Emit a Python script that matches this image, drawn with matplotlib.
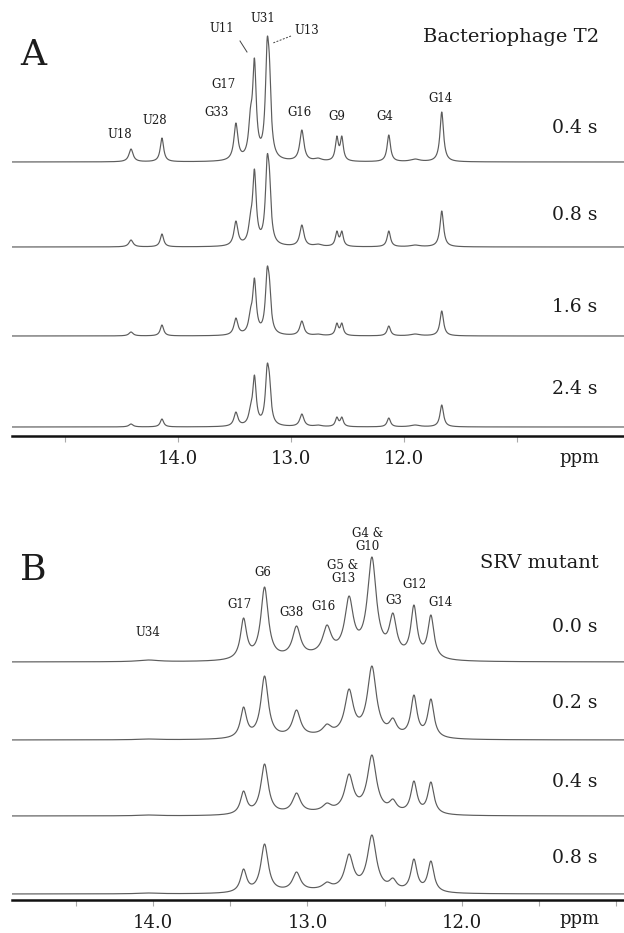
import numpy as np
import matplotlib
matplotlib.use("Agg")
import matplotlib.pyplot as plt
from matplotlib.lines import Line2D

# ---------------- data: panel A (Bacteriophage T2) ----------------
a_delays = ["0.4 s", "0.8 s", "1.6 s", "2.4 s"]
a_peak_ppm = [14.416, 14.142, 13.487, 13.358, 13.323, 13.210, 13.190,
              12.903, 12.593, 12.549, 12.133, 11.664, 12.760, 11.900]
a_peak_hwhm = [0.022, 0.018, 0.021, 0.020, 0.019, 0.019, 0.017,
               0.022, 0.016, 0.016, 0.018, 0.019, 0.040, 0.050]
# observed intensity at each peak position (pixels above baseline)
a_int_04 = [13, 24, 39, 55, 104, 124, 105, 32, 26, 26, 27, 50, 4, 3]
a_int_08 = [7, 13, 26, 35, 78, 92, 78, 22, 16, 16, 16, 36, 3, 2]
a_int_16 = [4, 11, 18, 28, 58, 69, 58, 15, 13, 13, 10, 25, 2, 2]
a_int_24 = [3, 8, 15, 22, 52, 63, 53, 13, 10, 10, 9, 22, 2, 2]
a_labels = ["U18", "U28", "G33", "G17", "U11", "U31", "U13",
            "G16", "G9", "G4", "G14"]

# ---------------- data: panel B (SRV mutant) ----------------
b_delays = ["0.0 s", "0.2 s", "0.4 s", "0.8 s"]
b_peak_ppm = [14.03, 13.414, 13.278, 13.071, 12.874, 12.731, 12.583,
              12.447, 12.311, 12.201]
b_peak_hwhm = [0.080, 0.024, 0.029, 0.031, 0.033, 0.033, 0.035,
               0.028, 0.024, 0.024]
b_int_00 = [2, 44, 75, 36, 37, 66, 105, 49, 57, 47]
b_int_02 = [1, 33, 64, 30, 16, 51, 74, 22, 45, 41]
b_int_04 = [1, 25, 52, 23, 13, 42, 61, 17, 35, 34]
b_int_08 = [1, 25, 50, 22, 12, 40, 59, 16, 35, 33]
b_hump_ppm = 12.80
b_hump_sigma = 0.30
b_hump_int = [5, 3, 3, 3]
b_labels = ["U34", "G17", "G6", "G38", "G16", "G5 &\nG13", "G4 &\nG10",
            "G3", "G12", "G14"]


def lorentz_matrix(x, centers, hwhm):
    c = np.asarray(centers)[None, :]
    w = np.asarray(hwhm)[None, :]
    return 1.0 / (1.0 + ((np.asarray(x)[:, None] - c) / w) ** 2)


def spectrum(x, centers, hwhm, observed, extra_at_peaks=None, extra=None):
    obs = np.asarray(observed, float)
    if extra_at_peaks is not None:
        obs = obs - extra_at_peaks
    M = lorentz_matrix(centers, centers, hwhm)
    amps = np.clip(np.linalg.solve(M, obs), 0, None)
    y = lorentz_matrix(x, centers, hwhm) @ amps
    if extra is not None:
        y = y + extra
    return y


def gauss(x, c, s, h):
    return h * np.exp(-0.5 * ((np.asarray(x) - c) / s) ** 2)


# ---------------- figure ----------------
W, H = 624, 933
fig = plt.figure(figsize=(W / 100, H / 100), dpi=100)
FONT = "DejaVu Serif"
TXT = "#1c1c1c"
LINE = "#5c5c5c"


def px_axes(x0, y0, x1, y1):
    return fig.add_axes([x0 / W, 1 - y1 / H, (x1 - x0) / W, (y1 - y0) / H])


def ftext(x, y, s, size, ha="center", va="center", **kw):
    fig.text(x / W, 1 - y / H, s, fontsize=size, ha=ha, va=va,
             family=FONT, color=TXT, **kw)


def style_axis(ax):
    for s in ("top", "left", "right"):
        ax.spines[s].set_visible(False)
    ax.spines["bottom"].set_linewidth(1.8)
    ax.spines["bottom"].set_color("#111111")
    ax.set_yticks([])
    ax.tick_params(axis="x", direction="out", length=4, width=0.8,
                   color="#aaaaaa", labelsize=13, pad=6, labelcolor=TXT)
    for lab in ax.get_xticklabels():
        lab.set_family(FONT)
    ax.patch.set_alpha(0)


# ----- panel A -----
axA = px_axes(12, 0, 624, 436)
axA.set_xlim(15.47, 10.05)
axA.set_ylim(0, 436)
a_offsets = [274, 189, 100, 9]
xa = np.linspace(15.47, 10.05, 4000)
for ints, off in zip([a_int_04, a_int_08, a_int_16, a_int_24], a_offsets):
    ya = spectrum(xa, a_peak_ppm, a_peak_hwhm, ints)
    axA.plot(xa, off + ya, color=LINE, lw=0.85)
axA.set_xticks([15, 14, 13, 12, 11])
axA.set_xticklabels(["", "14.0", "13.0", "12.0", ""])
style_axis(axA)

ftext(33, 55, "A", 26)
ftext(599, 37, "Bacteriophage T2", 14, ha="right")
for lab, y in zip(a_delays, [128, 215, 307, 389]):
    ftext(597, y, lab, 13.5, ha="right")
ftext(579, 458, "ppm", 13)

a_label_px = [(120, 135), (155, 120), (217, 112), (224, 85), (222, 28),
              (263, 19), (307, 31), (300, 112), (337, 117), (385, 117),
              (440, 99)]
for lab, (x, y) in zip(a_labels, a_label_px):
    ftext(x, y, lab, 8.5)
# leader lines
fig.add_artist(Line2D([240 / W, 247 / W], [1 - 41 / H, 1 - 52 / H],
                      color="#444444", lw=0.7))
fig.add_artist(Line2D([291 / W, 273 / W], [1 - 36 / H, 1 - 43 / H],
                      color="#444444", lw=0.7, ls=(0, (2, 1.5))))

# ----- panel B -----
axB = px_axes(12, 480, 624, 900)
axB.set_xlim(14.913, 10.951)
axB.set_ylim(0, 420)
b_offsets = [238, 160, 84, 6]
xb = np.linspace(14.913, 10.951, 4000)
for ints, hump, off in zip([b_int_00, b_int_02, b_int_04, b_int_08],
                           b_hump_int, b_offsets):
    hx = gauss(xb, b_hump_ppm, b_hump_sigma, hump)
    hp = gauss(b_peak_ppm, b_hump_ppm, b_hump_sigma, hump)
    yb = spectrum(xb, b_peak_ppm, b_peak_hwhm, ints, hp, hx)
    axB.plot(xb, off + yb, color=LINE, lw=0.85)
axB.set_xticks([14.5, 14.0, 13.5, 13.0, 12.5, 12.0, 11.5, 11.0])
axB.set_xticklabels(["", "14.0", "", "13.0", "", "12.0", "", ""])
style_axis(axB)

ftext(33, 570, "B", 26)
ftext(599, 563, "SRV mutant", 14, ha="right")
for lab, y in zip(b_delays, [627, 703, 782, 858]):
    ftext(597, y, lab, 13.5, ha="right")
ftext(579, 919, "ppm", 13)

b_label_px = [(148, 632), (239, 605), (263, 573), (291, 613), (323, 607),
              (343, 572), (368, 540), (394, 600), (414, 584), (440, 603)]
for lab, (x, y) in zip(b_labels, b_label_px):
    ftext(x, y, lab, 8.5, linespacing=0.95)

fig.savefig("out.png", dpi=100)
